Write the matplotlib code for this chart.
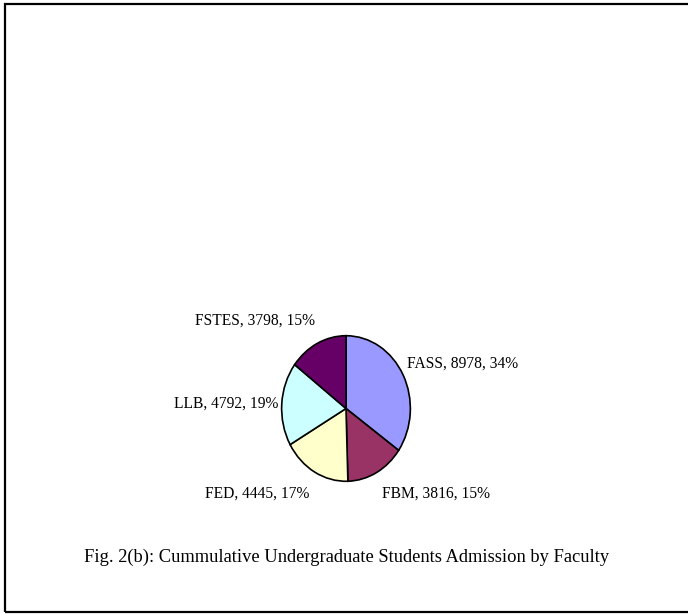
import matplotlib
matplotlib.use("Agg")
import matplotlib.pyplot as plt
from matplotlib.patches import Rectangle

W, H = 688, 615

faculties = ["FASS", "FBM", "FED", "LLB", "FSTES"]
admissions = [8978, 3816, 4445, 4792, 3798]
shares = ["34%", "15%", "17%", "19%", "15%"]
colors = ["#9999FF", "#993366", "#FFFFCC", "#CCFFFF", "#660066"]
caption = "Fig. 2(b): Cummulative Undergraduate Students Admission by Faculty"

# label anchor (left x, centre y) in pixels
label_pos = {
    "FASS": (407, 364),
    "FBM": (382, 494),
    "FED": (205, 494),
    "LLB": (174, 404),
    "FSTES": (195, 321),
}

plt.rcParams["font.family"] = ["Liberation Serif", "DejaVu Serif"]

fig = plt.figure(figsize=(W / 100, H / 100), dpi=100)


def px(x, y):
    return x / W, 1 - y / H


# pie bounding box in pixels: x 281..411, y 335..482
ax = fig.add_axes([281 / W, 1 - 482 / H, 130 / W, 147 / H])
ax.pie(admissions, colors=colors, startangle=90, counterclock=False,
       radius=1, wedgeprops=dict(edgecolor="black", linewidth=1.2))
ax.set_aspect("auto")
ax.set_xlim(-1.01, 1.01)
ax.set_ylim(-1.01, 1.01)
ax.axis("off")

for name, val, pct in zip(faculties, admissions, shares):
    x, y = label_pos[name]
    fig.text(*px(x, y), f"{name}, {val}, {pct}", fontsize=11.2,
             ha="left", va="center")

fig.text(*px(347, 557), caption, fontsize=13.3, ha="center", va="center")

fig.patches.append(Rectangle(px(5, 612), (700 - 5) / W, (612 - 4) / H,
                             transform=fig.transFigure, fill=False,
                             edgecolor="black", linewidth=1.6))

fig.savefig("out.png", dpi=100)
